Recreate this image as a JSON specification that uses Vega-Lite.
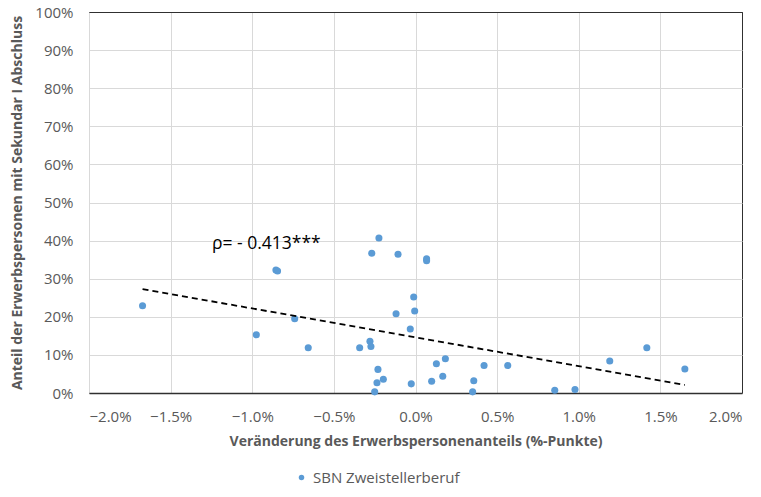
{
  "$schema": "https://vega.github.io/schema/vega-lite/v6.json",
  "width": 653,
  "height": 381,
  "autosize": {"type": "none"},
  "padding": {"left": 89, "top": 12, "right": 19, "bottom": 104},
  "background": "white",
  "config": {
    "font": "Open Sans",
    "view": {"stroke": "#303030", "strokeWidth": 1},
    "axis": {
      "gridWidth": 1,
      "ticks": false,
      "labelColor": "#595959",
      "labelFontSize": 15,
      "titleColor": "#595959",
      "titleFontSize": 14,
      "titleFontWeight": "bold",
      "domainColor": "#303030"
    }
  },
  "data": {
    "values": [
      {"x": -0.01672, "y": 0.229, "serie": "SBN Zweistellerberuf"},
      {"x": -0.00855, "y": 0.323, "serie": "SBN Zweistellerberuf"},
      {"x": -0.00845, "y": 0.320, "serie": "SBN Zweistellerberuf"},
      {"x": -0.00975, "y": 0.153, "serie": "SBN Zweistellerberuf"},
      {"x": -0.00740, "y": 0.195, "serie": "SBN Zweistellerberuf"},
      {"x": -0.00657, "y": 0.119, "serie": "SBN Zweistellerberuf"},
      {"x": -0.00342, "y": 0.119, "serie": "SBN Zweistellerberuf"},
      {"x": -0.00279, "y": 0.136, "serie": "SBN Zweistellerberuf"},
      {"x": -0.00273, "y": 0.122, "serie": "SBN Zweistellerberuf"},
      {"x": -0.00268, "y": 0.367, "serie": "SBN Zweistellerberuf"},
      {"x": -0.00224, "y": 0.407, "serie": "SBN Zweistellerberuf"},
      {"x": -0.00107, "y": 0.364, "serie": "SBN Zweistellerberuf"},
      {"x": -0.00230, "y": 0.062, "serie": "SBN Zweistellerberuf"},
      {"x": -0.00236, "y": 0.027, "serie": "SBN Zweistellerberuf"},
      {"x": -0.00197, "y": 0.036, "serie": "SBN Zweistellerberuf"},
      {"x": -0.00250, "y": 0.003, "serie": "SBN Zweistellerberuf"},
      {"x": -0.00119, "y": 0.208, "serie": "SBN Zweistellerberuf"},
      {"x": -0.00011, "y": 0.252, "serie": "SBN Zweistellerberuf"},
      {"x": -0.00005, "y": 0.215, "serie": "SBN Zweistellerberuf"},
      {"x": -0.00032, "y": 0.168, "serie": "SBN Zweistellerberuf"},
      {"x": -0.00026, "y": 0.024, "serie": "SBN Zweistellerberuf"},
      {"x": 0.00068, "y": 0.352, "serie": "SBN Zweistellerberuf"},
      {"x": 0.00068, "y": 0.347, "serie": "SBN Zweistellerberuf"},
      {"x": 0.00128, "y": 0.077, "serie": "SBN Zweistellerberuf"},
      {"x": 0.00183, "y": 0.090, "serie": "SBN Zweistellerberuf"},
      {"x": 0.00167, "y": 0.044, "serie": "SBN Zweistellerberuf"},
      {"x": 0.00099, "y": 0.031, "serie": "SBN Zweistellerberuf"},
      {"x": 0.00357, "y": 0.032, "serie": "SBN Zweistellerberuf"},
      {"x": 0.00350, "y": 0.003, "serie": "SBN Zweistellerberuf"},
      {"x": 0.00420, "y": 0.072, "serie": "SBN Zweistellerberuf"},
      {"x": 0.00565, "y": 0.072, "serie": "SBN Zweistellerberuf"},
      {"x": 0.00853, "y": 0.007, "serie": "SBN Zweistellerberuf"},
      {"x": 0.00977, "y": 0.009, "serie": "SBN Zweistellerberuf"},
      {"x": 0.01190, "y": 0.084, "serie": "SBN Zweistellerberuf"},
      {"x": 0.01417, "y": 0.119, "serie": "SBN Zweistellerberuf"},
      {"x": 0.01650, "y": 0.063, "serie": "SBN Zweistellerberuf"}
    ]
  },
  "encoding": {
    "x": {
      "field": "x", "type": "quantitative",
      "scale": {"domain": [-0.02, 0.02], "nice": false, "zero": false},
      "axis": {"format": ".1%", "values": [-0.02, -0.015, -0.01, -0.005, 0, 0.005, 0.01, 0.015, 0.02], "labelPadding": 16, "titlePadding": 10, "domainWidth": 1.5,
        "gridColor": {"condition": {"test": "datum.value >= 0.0199", "value": "#303030"}, "value": "#d9d9d9"},
        "title": "Veränderung des Erwerbspersonenanteils (%-Punkte)"}
    },
    "y": {
      "field": "y", "type": "quantitative",
      "scale": {"domain": [0, 1], "nice": false},
      "axis": {"format": ".0%", "values": [0, 0.1, 0.2, 0.3, 0.4, 0.5, 0.6, 0.7, 0.8, 0.9, 1], "labelPadding": 16, "titlePadding": 10, "domain": false,
        "gridColor": {"condition": {"test": "datum.value >= 0.999", "value": "#303030"}, "value": "#d9d9d9"},
        "title": "Anteil der Erwerbspersonen mit Sekundar I Abschluss"}
    }
  },
  "layer": [
    {
      "mark": {"type": "point", "filled": true, "opacity": 1, "size": 50},
      "encoding": {
        "color": {
          "field": "serie", "type": "nominal",
          "scale": {"range": ["#5B9BD5"]},
          "legend": {"orient": "none", "legendX": 205, "legendY": 458, "title": null, "labelFontSize": 15, "labelColor": "#595959", "symbolSize": 30, "symbolType": "circle", "labelOffset": 4}
        }
      }
    },
    {
      "transform": [{"regression": "y", "on": "x"}],
      "mark": {"type": "line", "color": "black", "strokeWidth": 1.8, "strokeDash": [6, 4]},
      "encoding": {}
    },
    {
      "data": {"values": [{"x": -0.01247, "y": 0.391, "label": "ρ= - 0.413***"}]},
      "mark": {"type": "text", "align": "left", "baseline": "middle", "fontSize": 17.5, "color": "black"},
      "encoding": {
        "text": {"field": "label"}
      }
    }
  ]
}
